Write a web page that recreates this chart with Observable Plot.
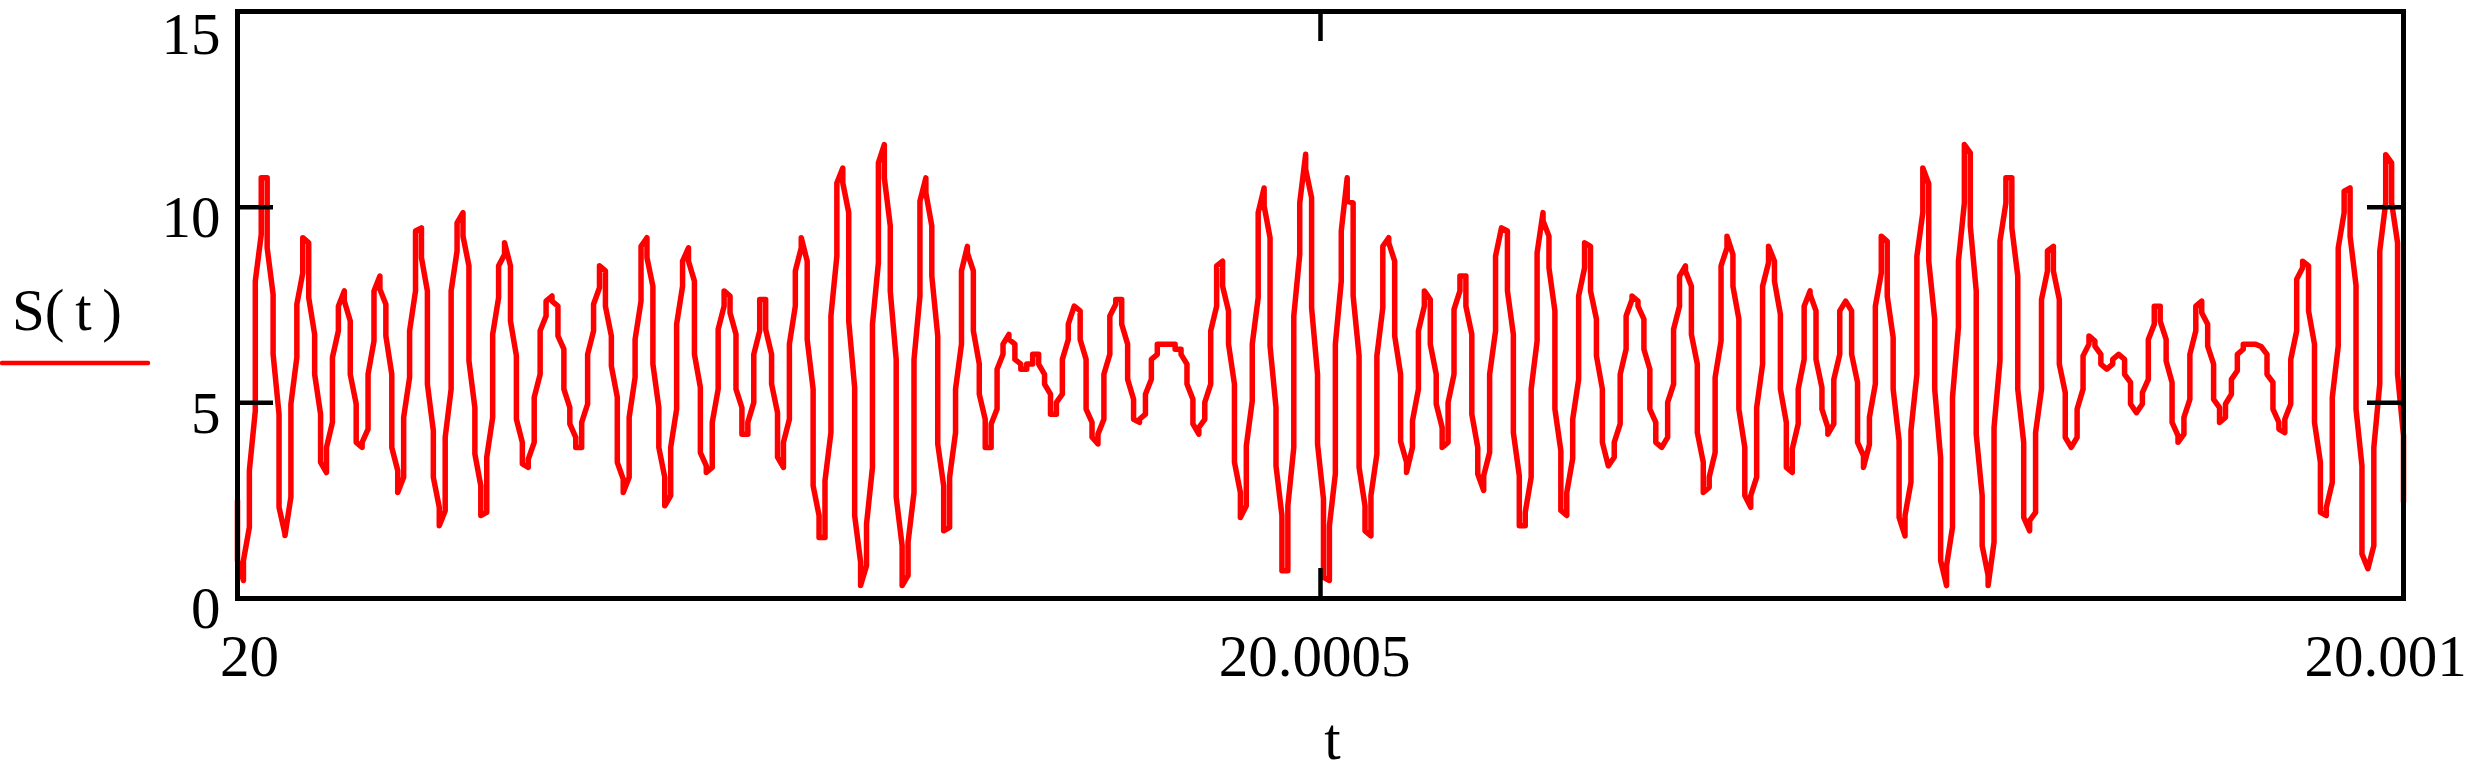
<!DOCTYPE html>
<html>
<head>
<meta charset="utf-8">
<script src="https://cdn.jsdelivr.net/npm/d3@7"></script>
<script src="https://cdn.jsdelivr.net/npm/@observablehq/plot@0.6"></script>
<style>
  html, body { margin: 0; padding: 0; background: white; }
</style>
</head>
<body>
<script>
// Time range and sample columns (Mathcad trace, one column per sample)
const tStart = 20;
const tEnd = 20.001;
// Value where the trace enters each column, and value where it leaves it
const sEnter = [
2.5,0.46,1.82,4.8,9.3,10.75,7.77,4.71,1.65,2.59,6.16,8.32,9.09,6.75,4.71,3.22,4.5,6.84,7.86,7.09,
4.97,3.86,4.33,6.58,8.24,7.52,5.73,3.27,3.1,5.65,7.86,9.47,7.86,4.29,2.33,2.24,5.35,8.88,9.86,8.5,
4.88,2.88,2.2,4.63,7.69,8.79,8.5,6.2,3.99,3.35,3.99,5.73,7.22,7.73,7.47,6.37,4.88,4.12,3.86,4.97,
6.84,7.94,8.37,6.71,5.14,3.05,3.1,5.65,7.6,9.22,7.98,4.88,3.1,2.63,4.84,7.98,8.96,8.11,5.39,3.39,
3.35,5.35,7.47,7.73,6.75,4.88,4.2,5.01,6.84,7.64,6.24,4.75,3.35,4.58,7.47,8.96,8.62,5.35,2.12,1.56,
4.24,8.75,11.0,9.86,5.39,0.93,0.84,3.35,8.58,11.6,9.52,6.11,1.35,0.59,2.71,7.73,10.75,9.52,6.71,2.88,
1.82,4.24,6.5,9.0,8.37,5.99,4.58,3.86,4.84,6.24,6.75,6.5,5.99,5.86,5.99,6.24,5.73,5.22,4.71,5.22,
6.62,7.47,7.35,6.11,4.5,3.95,4.58,6.24,7.52,7.64,6.5,5.09,4.5,4.71,5.6,6.24,6.5,6.5,6.5,6.37,
5.99,5.09,4.2,4.58,5.48,7.47,8.62,7.35,5.48,2.71,2.37,5.05,7.69,10.49,9.22,4.88,2.12,0.71,3.86,8.79,
11.35,10.24,5.73,2.55,0.46,3.18,8.11,10.75,10.11,6.2,2.37,1.6,3.69,7.43,9.22,8.62,5.73,3.48,3.86,5.35,
7.47,7.64,5.73,4.37,3.99,5.73,7.86,8.24,6.75,3.86,2.76,3.73,6.84,9.47,9.39,6.75,3.14,1.86,3.1,6.58,
9.86,9.26,7.35,3.78,2.12,3.58,5.6,8.45,9.0,7.14,5.35,3.39,3.61,4.46,6.37,7.64,7.6,7.14,5.86,4.5,
3.86,4.12,5.48,7.47,8.5,7.98,5.99,3.48,2.84,3.73,6.58,8.96,8.79,7.14,3.86,2.33,3.1,5.99,8.58,8.62,
7.26,4.5,3.22,4.46,6.11,7.86,7.35,5.39,4.37,4.46,6.24,7.6,7.35,5.52,3.65,3.94,5.48,8.32,9.13,6.67,
4.03,1.6,2.97,5.73,9.86,10.6,7.14,3.6,0.33,1.82,6.93,10.11,11.39,7.86,2.63,0.59,1.44,6.07,10.11,10.75,
8.24,3.99,1.73,2.2,5.35,8.37,9.0,7.64,5.26,3.86,4.12,5.35,6.5,6.58,6.24,5.86,5.99,6.24,6.11,5.52,
4.75,4.97,5.6,7.01,7.47,6.62,5.52,4.16,4.2,5.09,6.84,7.6,7.01,5.99,4.88,4.63,5.22,5.82,6.37,6.5,
6.5,6.44,6.24,5.52,4.5,4.24,4.97,6.84,8.45,8.5,6.5,3.48,2.12,2.97,6.45,9.86,10.49,8.0,3.39,0.76,
1.35,5.48,10.11,11.13,9.09,4.16
];
const sExit = [
0.97,0.97,3.27,8.11,10.75,8.96,6.24,2.33,1.61,4.97,7.52,9.22,7.69,5.73,3.48,3.86,6.16,7.47,7.6,5.73,
3.99,3.99,5.73,7.86,7.9,6.71,3.86,2.71,4.63,6.84,9.39,8.71,5.48,3.1,1.86,4.12,7.86,9.6,9.26,6.07,
3.69,2.12,3.61,6.75,8.5,9.09,7.09,4.58,3.44,3.56,5.14,6.84,7.6,7.6,6.71,5.35,4.46,3.86,4.5,6.24,
7.52,8.5,7.47,5.94,3.48,2.71,4.63,6.62,9.0,8.71,5.99,3.86,2.37,3.86,7.01,8.62,8.62,6.24,3.73,3.22,
4.5,6.88,7.86,7.3,5.35,4.2,4.5,6.24,7.64,6.88,5.48,3.61,3.99,6.5,8.37,9.22,6.62,2.88,1.56,3.01,
7.22,10.62,10.62,7.09,2.12,0.33,1.9,7.01,11.13,10.75,7.86,2.59,0.33,1.44,6.11,10.15,10.37,8.24,3.95,1.73,
3.1,5.35,8.37,8.83,6.84,5.22,3.86,4.46,5.86,6.5,6.62,6.11,5.86,5.99,6.24,5.99,5.48,4.71,5.01,6.11,
7.01,7.47,6.62,4.84,4.12,4.2,5.73,7.22,7.64,7.01,5.6,4.58,4.58,5.22,6.11,6.5,6.5,6.5,6.37,6.24,
5.48,4.46,4.37,5.01,6.84,8.5,7.98,6.5,3.48,2.07,3.9,6.5,9.86,10.03,6.45,3.39,0.71,2.37,7.22,10.11,
10.97,7.43,3.95,0.54,1.86,6.5,9.39,10.15,7.73,3.35,1.73,2.63,6.2,9.0,9.09,6.71,4.01,3.22,4.54,6.84,
7.86,6.5,4.97,3.86,5.01,7.39,8.24,7.47,4.71,3.18,3.14,5.73,8.75,9.47,7.86,4.24,1.86,2.2,5.35,8.83,
9.65,8.45,4.84,2.25,2.71,4.58,7.73,9.09,7.86,6.2,3.99,3.39,3.99,5.73,7.22,7.73,7.47,6.37,4.84,3.99,
3.86,5.01,6.88,8.24,8.37,6.75,4.24,2.71,3.1,5.65,8.5,9.26,7.98,4.84,2.63,2.63,4.88,7.98,9.0,8.11,
5.35,3.35,3.82,5.35,7.47,7.77,6.11,4.84,4.2,5.6,7.35,7.6,6.24,3.99,3.35,4.63,7.47,9.26,7.73,5.35,
2.07,2.12,4.29,8.75,11.0,8.62,5.35,0.97,0.84,5.14,8.62,11.6,9.52,4.2,1.35,0.33,4.37,9.13,10.75,9.47,
5.35,2.07,1.99,4.24,7.64,8.88,8.37,5.99,4.12,3.86,4.84,6.2,6.71,6.45,5.99,5.86,6.11,6.24,5.73,4.97,
4.75,5.26,6.62,7.47,7.09,6.07,4.5,3.99,4.63,6.24,7.47,7.3,6.45,5.09,4.5,4.97,5.6,6.24,6.5,6.5,
6.5,6.44,5.73,4.84,4.33,4.58,6.11,8.16,8.62,7.35,4.5,2.2,2.33,5.14,8.96,10.41,9.26,4.84,1.14,0.76,
3.86,8.88,11.34,10.11,5.73,2.47
];
const xTicks = [20, 20.0005, 20.001];
const yTicks = [0, 5, 10, 15];
const yInnerTicks = [5, 10];
const xInnerTicks = [20.0005];

const W = 2471, H = 772;
const mL = 237, mR = 68, mT = 11, mB = 174;
const plotW = W - mL - mR, plotH = H - mT - mB;
const tickLen = 36;
const fs = 59;

const nCols = sEnter.length;
const dt = (tEnd - tStart) / (nCols - 1);
const points = [];
for (let k = 0; k < nCols; k++) {
  const t = tStart + k * dt;
  points.push({t, s: sEnter[k]});
  points.push({t, s: sExit[k]});
}

const font = "'Liberation Serif', 'Times New Roman', Times, serif";
const fmt = d => String(d);
const yAxisOpts = {tickSize: 0, tickPadding: 17, fontSize: fs, label: null, tickFormat: fmt};
const xAxisOpts = {tickSize: 0, tickPadding: 36, fontSize: fs, label: null, tickFormat: fmt};

const chart = Plot.plot({
  width: W,
  height: H,
  marginLeft: mL,
  marginRight: mR,
  marginTop: mT,
  marginBottom: mB,
  style: {fontFamily: font, fontSize: fs + "px", color: "black", background: "white"},
  x: {domain: [tStart, tEnd]},
  y: {domain: [0, 15]},
  marks: [
    Plot.line(points, {x: "t", y: "s", stroke: "#ff0000", strokeWidth: 5.5, strokeLinejoin: "round", strokeLinecap: "round"}),
    Plot.frame({stroke: "black", strokeWidth: 5}),
    Plot.tickY(yInnerTicks, {y: d => d, stroke: "black", strokeWidth: 4.5, insetRight: plotW - tickLen}),
    Plot.tickY(yInnerTicks, {y: d => d, stroke: "black", strokeWidth: 4.5, insetLeft: plotW - tickLen}),
    Plot.tickX(xInnerTicks, {x: d => d, stroke: "black", strokeWidth: 4.5, insetBottom: plotH - 30}),
    Plot.tickX(xInnerTicks, {x: d => d, stroke: "black", strokeWidth: 4.5, insetTop: plotH - 30}),
    Plot.axisY(yTicks.slice(0, 3), {...yAxisOpts, dy: 11}),
    Plot.axisY(yTicks.slice(3), {...yAxisOpts, dy: 24}),
    Plot.axisX(xTicks.slice(0, 1), {...xAxisOpts, dx: 12}),
    Plot.axisX(xTicks.slice(1, 2), {...xAxisOpts, dx: -6}),
    Plot.axisX(xTicks.slice(2), {...xAxisOpts, dx: -18}),
    Plot.text(["t"], {text: d => d, frameAnchor: "bottom", lineAnchor: "bottom", dx: 12, dy: 160, fontSize: fs})
  ]
});

document.body.appendChild(chart);

// Legend (Mathcad trace label on the left)
const svg = d3.select(chart);
svg.append("text")
  .attr("x", 12)
  .attr("y", 330)
  .attr("text-anchor", "start")
  .attr("font-family", font)
  .attr("font-size", fs)
  .attr("word-spacing", -4)
  .attr("fill", "black")
  .text("S( t )");
svg.append("line")
  .attr("x1", 2).attr("x2", 148)
  .attr("y1", 363).attr("y2", 363)
  .attr("stroke", "#ff0000")
  .attr("stroke-width", 4.5)
  .attr("stroke-linecap", "round");
</script>
</body>
</html>
